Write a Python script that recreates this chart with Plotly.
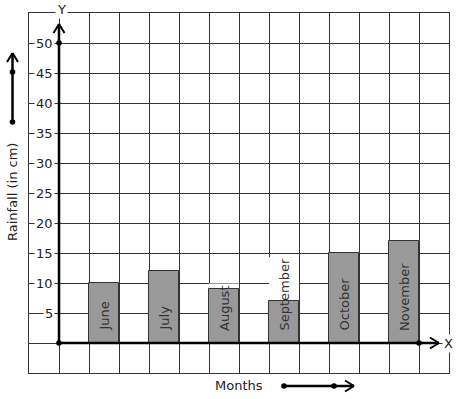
import plotly.graph_objects as go

# ---- data ----
months = ["June", "July", "August", "September", "October", "November"]
rainfall = [10, 12, 9, 7, 15, 17]
y_ticks = [5, 10, 15, 20, 25, 30, 35, 40, 45, 50]
x_title = "Months"
y_title = "Rainfall (in cm)"

# ---- geometry ----
W, H = 457, 399
ML, MR, MT, MB = 29, 8, 13, 26
PW, PH = W - ML - MR, H - MT - MB
XR = [-1, 13]
YR = [-5, 55]
PXU = PW / (XR[1] - XR[0])   # px per x unit
PYU = PH / (YR[1] - YR[0])   # px per y unit
FONT = "DejaVu Sans"
DARK = "#222222"
GRID = "#333333"

def px(xp):
    return (xp - ML) / PW

def py(yp):
    return (H - MB - yp) / PH

# DejaVu Sans advance widths (em) for label text length estimates
CW = {'J': .295, 'u': .634, 'n': .634, 'e': .615, 'l': .278, 'y': .592, 'A': .684,
      'g': .635, 's': .521, 't': .392, 'S': .635, 'p': .635, 'm': .974, 'b': .635,
      'r': .411, 'O': .787, 'c': .55, 'o': .612, 'N': .748, 'v': .592}

positions = [1.5 + 2 * i for i in range(len(months))]

fig = go.Figure()
fig.add_trace(go.Bar(
    x=positions, y=rainfall, width=1,
    marker=dict(color="#999999", line=dict(color=GRID, width=1)),
    hoverinfo="skip", showlegend=False,
))

shapes = []
ann = []

# white background behind the month labels (shows where text rises above bar)
LBL_FS = 13
LBL_SHIFT = 10
for xpos, m in zip(positions, months):
    tl = sum(CW.get(c, .6) for c in m) * LBL_FS
    top = (LBL_SHIFT + tl + 4) / PYU
    shapes.append(dict(type="rect", xref="x", yref="y", x0=xpos - 0.5, x1=xpos + 0.5,
                       y0=0, y1=top, fillcolor="white", line=dict(width=0), layer="between"))
    ann.append(dict(x=xpos, y=0, xref="x", yref="y", text=m, showarrow=False,
                    textangle=-90, yanchor="bottom", xanchor="center", yshift=LBL_SHIFT,
                    font=dict(family=FONT, size=LBL_FS, color="#333333")))

LW = 2.5
# y axis with arrow
ytip = YR[1] - (24 - MT) / PYU
shapes.append(dict(type="line", xref="x", yref="y", x0=0, y0=0, x1=0, y1=ytip,
                   line=dict(color="black", width=LW)))
for s in (-1, 1):
    shapes.append(dict(type="line", xref="x", yref="y", x0=0, y0=ytip,
                       x1=s * 5.5 / PXU, y1=ytip - 9 / PYU, line=dict(color="black", width=2)))
# x axis with arrow
xtip = (439 - ML) / PXU + XR[0]
shapes.append(dict(type="line", xref="x", yref="y", x0=0, y0=0, x1=xtip, y1=0,
                   line=dict(color="black", width=LW)))
for s in (-1, 1):
    shapes.append(dict(type="line", xref="x", yref="y", x0=xtip, y0=0,
                       x1=xtip - 9 / PXU, y1=s * 5.5 / PYU, line=dict(color="black", width=2)))
# dots on axes
for (dx, dy) in [(0, 0), (0, 50), (12, 0)]:
    shapes.append(dict(type="circle", xref="x", yref="y", xsizemode="pixel", ysizemode="pixel",
                       xanchor=dx, yanchor=dy, x0=-2.8, x1=2.8, y0=-2.8, y1=2.8,
                       fillcolor="black", line=dict(width=0)))

# left decorative arrow
lx = px(12.5)
shapes.append(dict(type="line", xref="paper", yref="paper", x0=lx, x1=lx, y0=py(122), y1=py(53),
                   line=dict(color="black", width=LW)))
for s in (-1, 1):
    shapes.append(dict(type="line", xref="paper", yref="paper", x0=lx, y0=py(53),
                       x1=px(12.5 + s * 5.5), y1=py(62), line=dict(color="black", width=2)))
for yy in (72, 122):
    shapes.append(dict(type="circle", xref="paper", yref="paper",
                       x0=px(12.5 - 2.8), x1=px(12.5 + 2.8), y0=py(yy + 2.8), y1=py(yy - 2.8),
                       fillcolor="black", line=dict(width=0)))
# bottom decorative arrow
by = py(386)
shapes.append(dict(type="line", xref="paper", yref="paper", x0=px(284), x1=px(354), y0=by, y1=by,
                   line=dict(color="black", width=LW)))
for s in (-1, 1):
    shapes.append(dict(type="line", xref="paper", yref="paper", x0=px(354), y0=by,
                       x1=px(345), y1=py(386 + s * 5.5), line=dict(color="black", width=2)))
for xx in (284, 334):
    shapes.append(dict(type="circle", xref="paper", yref="paper",
                       x0=px(xx - 2.8), x1=px(xx + 2.8), y0=py(386 + 2.8), y1=py(386 - 2.8),
                       fillcolor="black", line=dict(width=0)))

# y tick labels
for v in y_ticks:
    ann.append(dict(x=0, y=v, xref="x", yref="y", text=str(v), showarrow=False,
                    xanchor="right", yanchor="middle", xshift=-4, bgcolor="white", borderpad=1,
                    font=dict(family=FONT, size=13, color=DARK)))
# axis letters
ann.append(dict(x=0, y=YR[1], xref="x", yref="y", text="Y", showarrow=False, xanchor="center",
                yanchor="middle", xshift=2, yshift=3.5, bgcolor="white", borderpad=1,
                font=dict(family=FONT, size=13, color=DARK)))
ann.append(dict(x=XR[1], y=0, xref="x", yref="y", text="X", showarrow=False, xanchor="center",
                yanchor="middle", xshift=-0.5, bgcolor="white", borderpad=1,
                font=dict(family=FONT, size=13, color=DARK)))
# titles
ann.append(dict(x=px(12), y=py(192), xref="paper", yref="paper", text=y_title, showarrow=False,
                textangle=-90, xanchor="center", yanchor="middle",
                font=dict(family=FONT, size=13, color=DARK)))
ann.append(dict(x=px(239), y=py(385), xref="paper", yref="paper", text=x_title, showarrow=False,
                xanchor="center", yanchor="middle",
                font=dict(family=FONT, size=13, color=DARK)))

axis_common = dict(showgrid=True, gridcolor=GRID, gridwidth=1, zeroline=False,
                   showticklabels=False, ticks="", showline=True, mirror=True,
                   linecolor=GRID, linewidth=1, fixedrange=True)
fig.update_layout(
    width=W, height=H,
    margin=dict(l=ML, r=MR, t=MT, b=MB, pad=0),
    paper_bgcolor="white", plot_bgcolor="white",
    xaxis=dict(range=XR, dtick=1, tick0=0, **axis_common),
    yaxis=dict(range=YR, dtick=5, tick0=0, **axis_common),
    shapes=shapes, annotations=ann,
    bargap=0, showlegend=False,
)
fig.write_html("out.html", config={"displayModeBar": False},
               post_script="document.body.style.margin='0px';document.body.style.padding='0px';")
